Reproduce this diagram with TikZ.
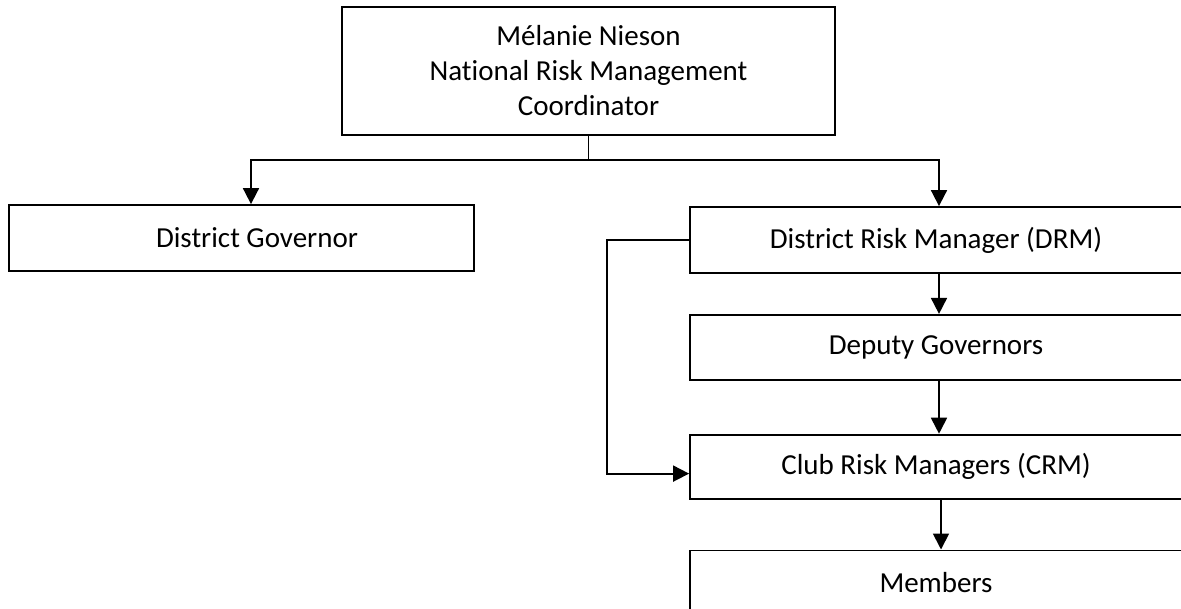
\documentclass[tikz,border=0pt]{standalone}
\usepackage{fontspec}
\setmainfont{Carlito}[Ligatures=NoCommon]
\usetikzlibrary{arrows.meta, positioning}

\begin{document}
\begin{tikzpicture}[
    x=1pt, y=1pt,
    every node/.style={font=\fontsize{29}{35}\selectfont, inner sep=0pt},
    box/.style={draw, line width=1.8pt, rectangle, align=center},
    arrow/.style={line width=1.8pt, -{Triangle[length=16pt, width=16pt]}}
]
\useasboundingbox (0,0) rectangle (1181,-608);

\node (coord) [box, minimum width=493pt, minimum height=128pt] at (588.5,-71) {Mélanie Nieson\\National Risk Management\\Coordinator};
\node (governor) [box, minimum width=465pt, minimum height=66pt] at (241.5,-238) {\hspace*{31pt}District Governor};
\node (drm) [box, minimum width=492pt, minimum height=66pt] at (936,-240) {District Risk Manager (DRM)};
\node (deputy) [box, minimum width=492pt, minimum height=65pt, below=40pt of drm] {Deputy Governors};
\node (crm) [box, minimum width=492pt, minimum height=64pt, below=53pt of deputy] {Club Risk Managers (CRM)};
\node (members) [box, minimum width=492pt, minimum height=64pt, below=50pt of crm] {Members};

\coordinate (split) at ([yshift=-24pt]coord.south);
\draw [line width=1.8pt] (coord.south) -- (split);
\draw [arrow] (split) -| ([xshift=9.5pt]governor.north);
\draw [arrow] (split) -| ([xshift=3pt]drm.north);
\draw [arrow] ([xshift=3pt]drm.south) -- ([xshift=3pt]deputy.north);
\draw [arrow] ([xshift=3pt]deputy.south) -- ([xshift=3pt]crm.north);
\draw [arrow] ([xshift=5pt]crm.south) -- ([xshift=5pt]members.north);
\draw [arrow] (drm.west) -- ++(-82,0) |- ([yshift=-7pt]crm.west);

\end{tikzpicture}
\end{document}
